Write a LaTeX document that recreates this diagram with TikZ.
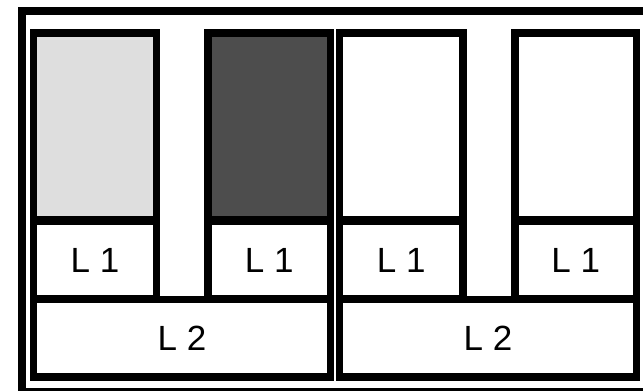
\documentclass[tikz,border=0pt]{standalone}
\usepackage{fontspec}
\setmainfont{Liberation Sans}
\definecolor{lightg}{HTML}{DEDEDE}
\definecolor{darkg}{HTML}{4D4D4D}
\tikzset{
  cell/.style={draw=black, line width=7.5pt, rectangle, inner sep=0pt, outer sep=0pt, font=\fontsize{35}{40}\selectfont},
}
\begin{document}
\begin{tikzpicture}[x=1pt,y=-1pt]
\useasboundingbox (0,0) rectangle (643,391);
\clip (0,0) rectangle (643,391);
% outer frame
\node[cell, minimum width=638pt, minimum height=380.5pt] (frame) at (341,201.25) {};
% column 1
\node[cell, fill=lightg, minimum width=123pt, minimum height=187pt] (c1) at (95,126.5) {};
\node[cell, minimum width=123pt, minimum height=78pt] (a1) at (95,260) {L 1};
% column 2
\node[cell, fill=darkg, minimum width=122.5pt, minimum height=187pt] (c2) at (269.25,126.5) {};
\node[cell, minimum width=122.5pt, minimum height=78pt] (a2) at (269.25,260) {L 1};
% column 3
\node[cell, minimum width=123.5pt, minimum height=187pt] (c3) at (401.25,126.5) {};
\node[cell, minimum width=123.5pt, minimum height=78pt] (a3) at (401.25,260) {L 1};
% column 4
\node[cell, minimum width=121.5pt, minimum height=187pt] (c4) at (575.75,126.5) {};
\node[cell, minimum width=121.5pt, minimum height=78pt] (a4) at (575.75,260) {L 1};
% L2 boxes
\node[cell, minimum width=297pt, minimum height=77.5pt] (b1) at (182,338) {L 2};
\node[cell, minimum width=297pt, minimum height=77.5pt] (b2) at (488,338) {L 2};
\end{tikzpicture}
\end{document}
